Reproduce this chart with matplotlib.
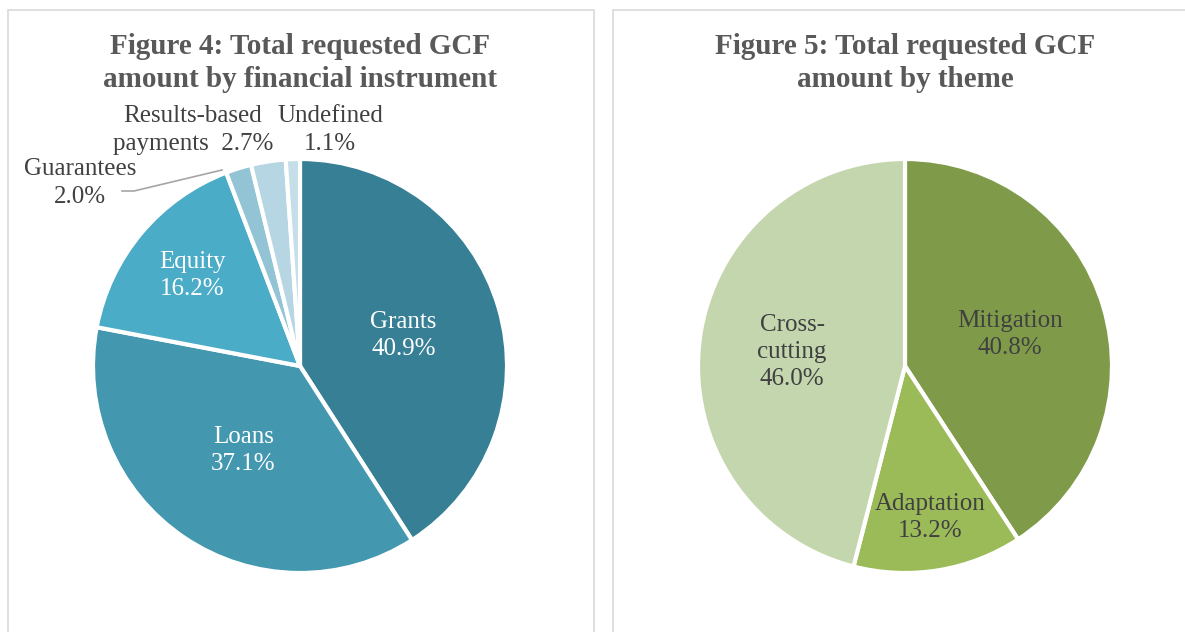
import numpy as np
import matplotlib.pyplot as plt
from matplotlib.patches import Rectangle

plt.rcParams['font.family'] = ['Liberation Serif', 'DejaVu Serif']

# data
instruments = ['Grants', 'Loans', 'Equity', 'Guarantees', 'Results-based\npayments', 'Undefined']
instr_share = [40.9, 37.1, 16.2, 2.0, 2.7, 1.1]
instr_colors = ['#367F94', '#4398B0', '#4AACC6', '#92C4D5', '#B6D6E3', '#C5DEE8']

themes = ['Mitigation', 'Adaptation', 'Cross-\ncutting']
theme_share = [40.8, 13.2, 46.0]
theme_colors = ['#7F9B4A', '#9BBB59', '#C4D6AD']

W, H = 1185, 632
fig = plt.figure(figsize=(W / 100, H / 100), dpi=100)
ax = fig.add_axes([0, 0, 1, 1])

# panel borders
for x0, x1 in [(8, 594), (613, 1200)]:
    ax.add_patch(Rectangle((x0, -5), x1 - x0, H - 10 + 5, fill=False, ec='#D9D9D9', lw=1.2))

title_kw = dict(ha='center', va='center', fontsize=21, fontweight='bold', color='#595959', linespacing=1.3)
ax.text(300, H - 63, 'Figure 4: Total requested GCF\namount by financial instrument', **title_kw)
ax.text(905, H - 63, 'Figure 5: Total requested GCF\namount by theme', **title_kw)

R = 207
c1 = (300, H - 366)
c2 = (905, H - 366)

wedges1, _ = ax.pie(instr_share, colors=instr_colors, startangle=90, counterclock=False,
                    center=c1, radius=R, wedgeprops=dict(edgecolor='white', linewidth=3), frame=True)
wedges2, _ = ax.pie(theme_share, colors=theme_colors, startangle=90, counterclock=False,
                    center=c2, radius=R, wedgeprops=dict(edgecolor='white', linewidth=3), frame=True)
ax.set_xlim(0, W)
ax.set_ylim(0, H)
ax.set_aspect('equal')
ax.axis('off')

lab_kw = dict(ha='center', va='center', fontsize=18, linespacing=1.3)

# inside labels: (distance fraction, color)
inside1 = {0: (0.52, 'white'), 1: (0.49, 'white'), 2: (0.68, 'white')}
for i, (d, col) in inside1.items():
    w = wedges1[i]
    a = np.deg2rad((w.theta1 + w.theta2) / 2)
    ax.text(c1[0] + d * R * np.cos(a), c1[1] + d * R * np.sin(a),
            f'{instruments[i]}\n{instr_share[i]:.1f}%', color=col, **lab_kw)

# outside labels for small slices
ax.text(80, H - 183, f'{instruments[3]}\n{instr_share[3]:.1f}%', color='#404040', **lab_kw)
ax.text(193, H - 130, f'Results-based\npayments  {instr_share[4]:.1f}%', color='#404040', **lab_kw)
ax.text(330, H - 130, f'{instruments[5]}\n{instr_share[5]:.1f}%', color='#404040', **lab_kw)
ax.plot([122, 134, 222], [H - 191, H - 191, H - 170], color='#A6A6A6', lw=1.2)

inside2 = [0.53, 0.74, 0.55]
for i, d in enumerate(inside2):
    w = wedges2[i]
    a = np.deg2rad((w.theta1 + w.theta2) / 2)
    ax.text(c2[0] + d * R * np.cos(a), c2[1] + d * R * np.sin(a),
            f'{themes[i]}\n{theme_share[i]:.1f}%', color='#404040', **lab_kw)

fig.savefig('out.png', dpi=100, facecolor='white')
